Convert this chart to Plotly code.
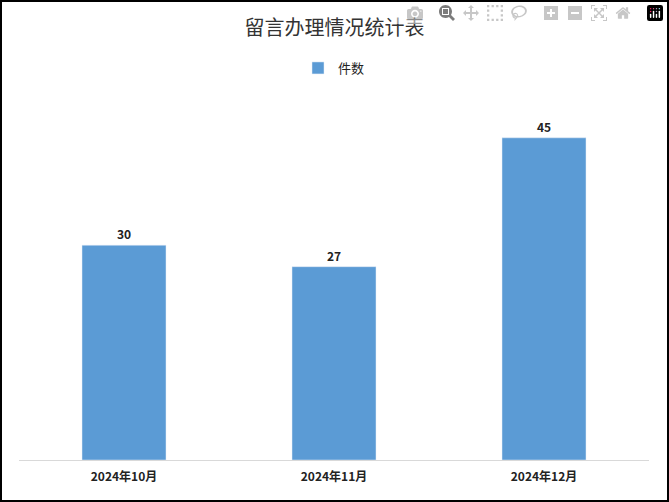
import plotly.graph_objects as go

months = ["2024年10月", "2024年11月", "2024年12月"]
counts = [30, 27, 45]

L, R, T, B = 19, 20, 102, 42
W, H = 669, 502
pw, ph = W - L - R, H - T - B

fig = go.Figure(go.Bar(
    x=months, y=counts, name="件数", marker_color="#5B9BD5", width=0.4,
    text=counts, texttemplate="<b>%{y}</b>", textposition="outside",
    textfont=dict(size=12, color="#222222"), cliponaxis=False,
))

fig.update_xaxes(showline=True, linecolor="#d9d9d9", linewidth=1,
                 tickfont=dict(size=12, color="#222222"),
                 ticks="outside", tickcolor="white", ticklen=6)
fig.update_xaxes(ticktext=["<b>%s</b>" % m for m in months], tickvals=months)
fig.update_yaxes(visible=False, range=[0, 50])

fig.add_shape(type="rect", xref="paper", yref="paper",
              x0=-(L - 1) / pw, x1=1 + (R - 1) / pw,
              y0=-(B - 1) / ph, y1=1 + (T - 1) / ph,
              line=dict(color="black", width=2))

fig.update_layout(
    width=W, height=H, autosize=False,
    plot_bgcolor="white", paper_bgcolor="white",
    margin=dict(l=L, r=R, t=T, b=B),
    font=dict(family="Noto Sans CJK SC", color="#222222"),
    title=dict(text="留言办理情况统计表", x=0.5, xanchor="center",
               y=1 - 28 / H, yanchor="middle",
               font=dict(size=20, color="#333333")),
    showlegend=True,
    legend=dict(orientation="h", x=0.5, xanchor="center", y=1 + 34 / ph,
                yanchor="middle", font=dict(size=13)),
    bargap=0.6,
)

fig.write_html("out.html", post_script="document.body.style.margin='0';")
